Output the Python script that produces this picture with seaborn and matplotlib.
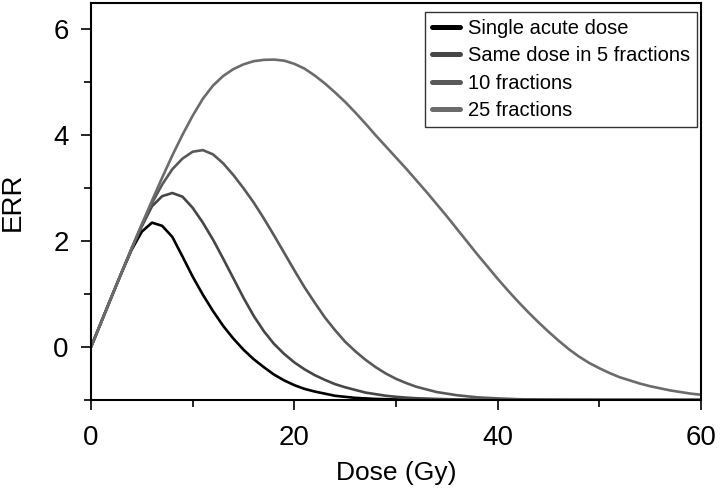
import numpy as np
import pandas as pd
import matplotlib.pyplot as plt
from matplotlib.ticker import MultipleLocator
import seaborn as sns

# dose (Gy) / ERR values
dose_single = list(range(0, 36)) + [40, 50, 60]
err_single = [0, 0.47, 0.94, 1.40, 1.84, 2.18, 2.35, 2.29, 2.08, 1.71,
              1.33, 0.99, 0.68, 0.40, 0.16, -0.05, -0.23, -0.38, -0.52, -0.63,
              -0.72, -0.79, -0.84, -0.88, -0.92, -0.94, -0.96, -0.97, -0.98, -0.985,
              -0.99, -0.993, -0.996, -0.998, -0.999, -1.0, -1.0, -1.0, -1.0]

dose_5 = list(range(0, 33)) + [34, 36, 40, 50, 60]
err_5 = [0, 0.47, 0.94, 1.405, 1.86, 2.28, 2.66, 2.85, 2.91, 2.84,
         2.63, 2.35, 2.03, 1.67, 1.30, 0.93, 0.59, 0.30, 0.06, -0.13,
         -0.29, -0.42, -0.53, -0.62, -0.70, -0.76, -0.81, -0.86, -0.89, -0.92,
         -0.94, -0.955, -0.967, -0.98, -0.99, -1.0, -1.0, -1.0]

dose_10 = list(range(0, 41)) + [42, 45, 50, 60]
err_10 = [0, 0.47, 0.94, 1.405, 1.865, 2.31, 2.72, 3.07, 3.36, 3.56,
          3.69, 3.72, 3.64, 3.47, 3.25, 3.00, 2.73, 2.43, 2.11, 1.78,
          1.45, 1.13, 0.84, 0.56, 0.32, 0.10, -0.08, -0.24, -0.38, -0.50,
          -0.60, -0.68, -0.75, -0.80, -0.85, -0.88, -0.91, -0.93, -0.95, -0.96,
          -0.97, -0.985, -0.995, -1.0, -1.0]

dose_25 = list(range(0, 61))
err_25 = [0, 0.47, 0.94, 1.405, 1.865, 2.32, 2.765, 3.20, 3.62, 4.01,
          4.37, 4.69, 4.94, 5.12, 5.25, 5.34, 5.40, 5.425, 5.43, 5.41,
          5.35, 5.26, 5.13, 4.98, 4.81, 4.63, 4.43, 4.22, 4.00, 3.79,
          3.58, 3.37, 3.15, 2.93, 2.70, 2.47, 2.23, 1.99, 1.75, 1.52,
          1.29, 1.07, 0.86, 0.66, 0.47, 0.29, 0.12, -0.04, -0.18, -0.30,
          -0.40, -0.49, -0.57, -0.63, -0.69, -0.74, -0.78, -0.82, -0.85, -0.88,
          -0.90]

labels = ['Single acute dose', 'Same dose in 5 fractions', '10 fractions', '25 fractions']
colors = ['#000000', '#464646', '#595959', '#6b6b6b']

df = pd.concat([
    pd.DataFrame({'dose': dose_single, 'err': err_single, 'schedule': labels[0]}),
    pd.DataFrame({'dose': dose_5, 'err': err_5, 'schedule': labels[1]}),
    pd.DataFrame({'dose': dose_10, 'err': err_10, 'schedule': labels[2]}),
    pd.DataFrame({'dose': dose_25, 'err': err_25, 'schedule': labels[3]}),
], ignore_index=True)

sns.set_style('ticks')
plt.rcParams['font.family'] = ['Liberation Sans', 'DejaVu Sans']
plt.rcParams['text.color'] = 'black'
plt.rcParams['axes.labelcolor'] = 'black'
plt.rcParams['xtick.color'] = 'black'
plt.rcParams['ytick.color'] = 'black'

fig = plt.figure(figsize=(7.2, 4.92), dpi=100)
ax = fig.add_axes([0.1264, 0.187, 0.8472, 0.807])

sns.lineplot(data=df, x='dose', y='err', hue='schedule', hue_order=labels,
             palette=colors, estimator=None, sort=False, linewidth=1.9, ax=ax)

ax.set_xlim(0, 60)
ax.set_ylim(-1, 6.5)
ax.xaxis.set_major_locator(MultipleLocator(20))
ax.xaxis.set_minor_locator(MultipleLocator(10))
ax.yaxis.set_major_locator(MultipleLocator(2))
ax.yaxis.set_minor_locator(MultipleLocator(1))
ax.tick_params(which='major', length=7, width=1.2, labelsize=20)
ax.tick_params(axis='x', which='major', pad=11)
ax.tick_params(axis='y', which='major', pad=9)
ax.tick_params(which='minor', length=5, width=1.2)
for s in ax.spines.values():
    s.set_linewidth(1.5)
    s.set_color('black')

ax.set_xlabel('Dose (Gy)', fontsize=19, labelpad=7)
ax.set_ylabel('ERR', fontsize=20, labelpad=20)

leg = ax.legend(loc='upper right', bbox_to_anchor=(0.994, 0.978), borderaxespad=0,
                fontsize=14.5, frameon=True, fancybox=False, handlelength=1.4,
                handletextpad=0.4, labelspacing=0.42, borderpad=0.35)
leg.get_frame().set_edgecolor('black')
leg.get_frame().set_linewidth(1.0)
for h in leg.get_lines():
    h.set_linewidth(3.6)

fig.savefig('out.png', dpi=100)
